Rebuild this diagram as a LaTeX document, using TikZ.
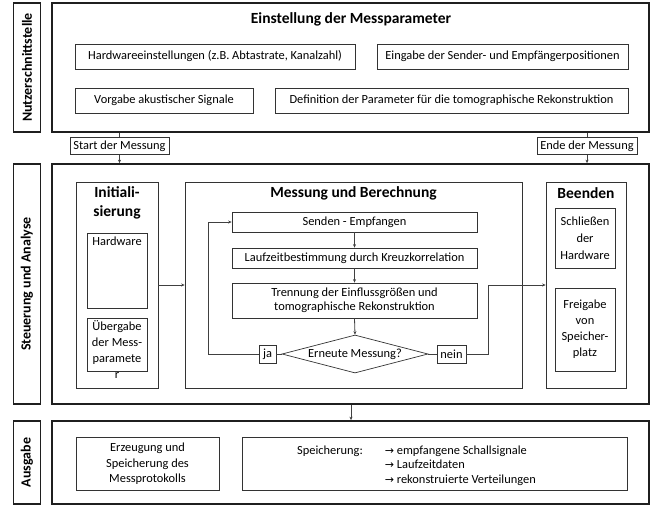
\documentclass[tikz,border=0pt]{standalone}
\usepackage{fontspec}
\setmainfont{Carlito}
\newfontfamily\dejavu{DejaVu Sans}
\usetikzlibrary{shapes.geometric,arrows.meta}
\newcommand\myfs{\fontsize{12.4}{16.5}\selectfont}
\newcommand\mytitle{\fontsize{15.5}{19}\selectfont\bfseries}
\newcommand\mylab{\fontsize{14}{15}\selectfont\bfseries}
\newcommand\rarr{{\dejavu\fontsize{11}{11}\selectfont →}}
\begin{document}
\begin{tikzpicture}[x=1pt,y=-1pt,
  outer/.style={draw=black!88,line width=1.7pt,inner sep=0pt},
  sidelab/.style={outer,rotate=90,font=\mylab},
  box/.style={draw=black!80,line width=0.7pt,inner sep=0pt,font=\myfs,align=center},
  txt/.style={inner sep=0pt,font=\myfs,align=center},
  ttl/.style={inner sep=0pt,font=\mytitle,align=center},
  conn/.style={draw=black!75,line width=0.8pt},
  arr/.style={conn,-{Stealth[length=3.5pt,width=3pt]}}]
\useasboundingbox (0,0) rectangle (652,506);
\fill[white] (0,0) rectangle (652,506);

% --- Nutzerschnittstelle
\node[sidelab, minimum width=129, minimum height=27] (lab1) at (27,67.5) {Nutzerschnittstelle};
\node[outer, minimum width=597, minimum height=129] (top) at (350.5,67.5) {};
\node[ttl] (t1) at (351,19) {Einstellung der Messparameter};
\node[box, minimum width=280, minimum height=25] (hw) at (215,56.5) {Hardwareeinstellungen (z.B. Abtastrate, Kanalzahl)};
\node[box, minimum width=251, minimum height=25] (eing) at (502.5,56.5) {Eingabe der Sender- und Empfängerpositionen};
\node[box, minimum width=178, minimum height=25] (vorg) at (164,100.5) {Vorgabe akustischer Signale};
\node[box, minimum width=353, minimum height=25] (defn) at (451.5,100.5) {Definition der Parameter für die tomographische Rekonstruktion};

\node[box, minimum width=99, minimum height=17] (start) at (119.5,146) {Start der Messung};
\node[box, minimum width=100, minimum height=17] (ende) at (587,146) {Ende der Messung};

% --- Steuerung und Analyse
\node[sidelab, minimum width=240, minimum height=27] (lab2) at (27,284) {Steuerung und Analyse};
\node[outer, minimum width=597, minimum height=240] (mid) at (350.5,284) {};

\node[box, minimum width=82, minimum height=206] (init) at (117,285) {};
\node[ttl] (t2) at (117,203) {Initiali-\\sierung};
\node[box, minimum width=60, minimum height=75] (hwi) at (117,270.5) {};
\node[txt, anchor=north] (hwit) at (117,237) {Hardware};
\node[box, minimum width=60, minimum height=53] (ueb) at (117,344.5) {};
\node[txt, anchor=north, font=\fontsize{12.4}{16}\selectfont] (uebt) at (117,320) {Übergabe\\der Mess-\\paramete\\r};

\node[box, minimum width=337, minimum height=206] (mess) at (353.5,285) {};
\node[ttl] (t3) at (353.5,193) {Messung und Berechnung};
\node[box, minimum width=245, minimum height=20] (send) at (354.5,222) {Senden - Empfangen};
\node[box, minimum width=245, minimum height=20] (lauf) at (354.5,258) {Laufzeitbestimmung durch Kreuzkorrelation};
\node[box, minimum width=245, minimum height=35, font=\fontsize{12.4}{14}\selectfont] (tren) at (354.5,300.5) {Trennung der Einflussgrößen und\\tomographische Rekonstruktion};
\node[box, diamond, aspect=3.84, minimum width=146, minimum height=38] (dia) at (355,354) {Erneute Messung?};
\node[box, minimum width=17, minimum height=18] (ja) at (267.5,354) {ja};
\node[box, minimum width=29, minimum height=18] (nein) at (451.5,354) {nein};

\node[box, minimum width=80, minimum height=206] (been) at (586,285) {};
\node[ttl] (t4) at (586,193) {Beenden};
\node[box, minimum width=60, minimum height=60, font=\fontsize{12.4}{17}\selectfont] (schl) at (585,238) {Schließen\\der\\Hardware};
\node[box, minimum width=60, minimum height=83, font=\fontsize{12.4}{16}\selectfont] (frei) at (585,329.5) {Freigabe\\von\\Speicher-\\platz};

% --- Ausgabe
\node[sidelab, minimum width=83, minimum height=27] (lab3) at (27,462.5) {Ausgabe};
\node[outer, minimum width=597, minimum height=83] (bot) at (350.5,462.5) {};
\node[box, minimum width=143, minimum height=53, font=\fontsize{12.4}{15.5}\selectfont] (erz) at (147.5,464) {Erzeugung und\\Speicherung des\\Messprotokolls};
\node[box, minimum width=385, minimum height=53] (spei) at (434.5,463.5) {};
\node[txt, anchor=west, align=left, font=\fontsize{12.4}{14.5}\selectfont] (speit) at (297,466)
  {\begin{tabular}{@{}l@{\hspace{22pt}}l@{}}Speicherung: & \rarr\ empfangene Schallsignale\\ & \rarr\ Laufzeitdaten\\ & \rarr\ rekonstruierte Verteilungen\end{tabular}};

% --- connectors
\draw[conn] (top.south -| start.north) -- (start.north);
\draw[arr] (start.south) -- (start.south |- mid.north);
\draw[conn] (top.south -| ende.north) -- (ende.north);
\draw[arr] (ende.south) -- (ende.south |- mid.north);
\draw[arr] (init.east) -- (mess.west);
\draw[arr] (send.south) -- (lauf.north);
\draw[arr] (lauf.south) -- (tren.north);
\draw[arr] (tren.south) -- (dia.north);
\draw[conn] (dia.west) -- (ja.east);
\coordinate (loopL) at (208,354);
\draw[arr] (ja.west) -- (loopL) |- (send.west);
\draw[conn] (dia.east) -- (nein.west);
\coordinate (loopR) at (488,354);
\draw[arr] (nein.east) -- (loopR) |- (been.west);
\draw[arr] (mid.south -| 351,0) -- (bot.north -| 351,0);
\end{tikzpicture}
\end{document}
